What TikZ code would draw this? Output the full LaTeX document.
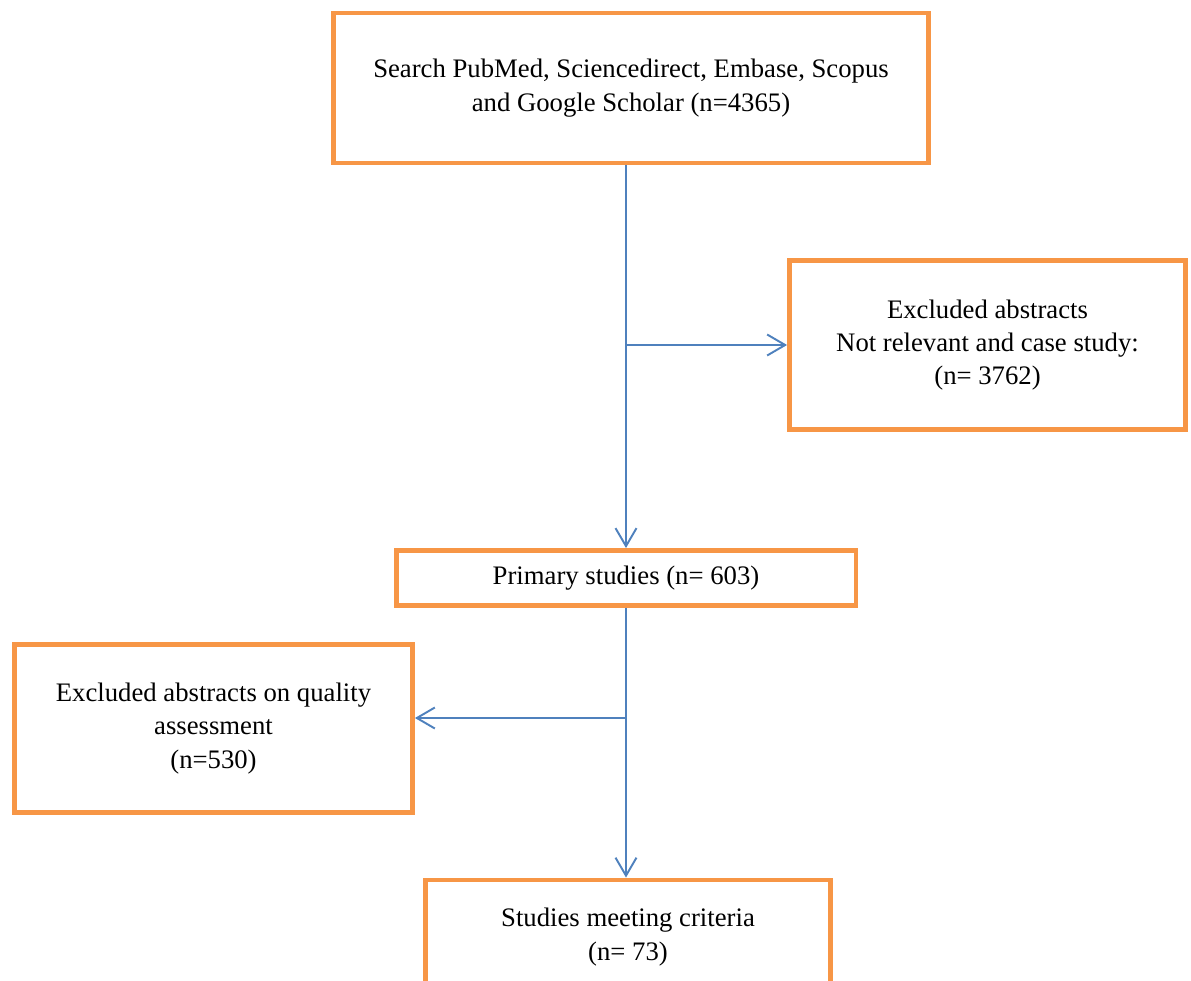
\documentclass[tikz,border=0pt]{standalone}
\usepackage{fontspec}
\setmainfont{Liberation Serif}
\usetikzlibrary{arrows.meta}
\definecolor{boxorange}{HTML}{F79646}
\definecolor{lineblue}{HTML}{4F81BD}
\tikzset{
  box/.style={draw=boxorange, line width=2.8pt, align=center, inner sep=0pt,
    font=\fontsize{15.2}{19}\selectfont},
  link/.style={draw=lineblue, line width=1.1pt, -{Straight Barb[length=0.36cm,width=0.42cm,line width=1.1pt]}}
}
\begin{document}
\begin{tikzpicture}[x=0.02cm,y=-0.02cm]
        \useasboundingbox (0,0) rectangle (1191,981);
        % Boxes
        \node[box, minimum width=11.9cm, minimum height=3.0cm] (search) at (631,88)
            {Search PubMed, Sciencedirect, Embase, Scopus\\and Google Scholar (n=4365)};
        \node[box, minimum width=7.92cm, minimum height=3.38cm] (excl1) at (987.5,345)
            {Excluded abstracts\\Not relevant and case study:\\(n= 3762)};
        \node[box, minimum width=9.2cm, minimum height=1.1cm] (primary) at (626,578)
            {Primary studies (n= 603)};
        \node[box, minimum width=7.96cm, minimum height=3.36cm] (excl2) at (213.5,728.5)
            {Excluded abstracts on quality\\assessment\\(n=530)};
        \node[box, minimum width=8.1cm, minimum height=2.28cm] (final) at (628,937)
            {Studies meeting criteria\\(n= 73)};
        % Connectors
        \draw[link] (search.south -| primary) -- (primary.north);
        \draw[link] (excl1.west -| primary) -- (excl1.west);
        \draw[link] (primary.south) -- (primary.south |- final.north);
        \coordinate (split) at (626,718);
        \draw[link] (split) -- (split -| excl2.east);
    \end{tikzpicture}
\end{document}
